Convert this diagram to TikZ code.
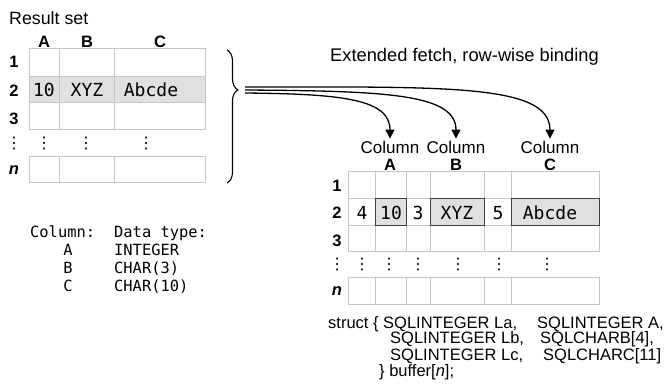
\documentclass[tikz,border=0pt]{standalone}
\usepackage{fontspec}
\setmainfont{Liberation Sans}
\setmonofont{DejaVu Sans Mono}
\newfontfamily\dotfont{DejaVu Sans}
\usetikzlibrary{arrows.meta,decorations.pathreplacing}

\definecolor{gridgray}{HTML}{C6C6C6}
\definecolor{rowgray}{HTML}{E0E0E0}
\definecolor{boxedge}{HTML}{3D3D3D}

\begin{document}
\begin{tikzpicture}[x=1pt,y=-1pt,
    gridline/.style={draw=gridgray,line width=1pt},
    field/.style={draw=boxedge,fill=rowgray,line width=1pt},
    flow/.style={draw,line width=1.3pt,-{Triangle[width=9pt,length=9pt]}}]
      \useasboundingbox (0,0) rectangle (665,385);
      % result set
      \fill[rowgray] (29,77) rectangle (205,103);
      \draw[gridline] (29,49) rectangle (205,130) (29,77) -- (205,77) (29,103) -- (205,103)
        (59,49) -- (59,130) (114,49) -- (114,130);
      \draw[gridline] (29,157) rectangle (205,183) (59,157) -- (59,183) (114,157) -- (114,183);
      % buffer
      \draw[gridline] (348,172) rectangle (599,252) (348,199) -- (599,199) (348,226) -- (599,226)
        (375,172) -- (375,252) (406,172) -- (406,252) (430,172) -- (430,252)
        (484,172) -- (484,252) (511,172) -- (511,252);
      \draw[gridline] (348,278) rectangle (599,305)
        (375,278) -- (375,305) (406,278) -- (406,305) (430,278) -- (430,305)
        (484,278) -- (484,305) (511,278) -- (511,305);
      \draw[field] (375,199) rectangle (406,226);
      \draw[field] (430,199) rectangle (484,226);
      \draw[field] (511,199) rectangle (599,226);
      \draw[line width=1.1pt,decorate,decoration={brace,amplitude=11pt,aspect=0.3}] (227,50) -- (227,183);
      \begin{scope}[every node/.style={anchor=base west,inner sep=0pt,font=\fontsize{17.8}{21}\selectfont}]
        \node (result) at (9,25) {Result set};
        \node[font=\fontsize{18.3}{22}\selectfont] (fetch) at (330,62) {Extended fetch, row-wise binding};
      \end{scope}
      \begin{scope}[every node/.style={font=\fontsize{16.5}{19}\bfseries}]
        \node (hA) at (44,42) {A};
        \node (hB) at (87,42) {B};
        \node (hC) at (160,42) {C};
        \node (r1) at (14,62) {1};
        \node (r2) at (14,91) {2};
        \node (r3) at (14,119) {3};
        \node[font=\fontsize{16.5}{19}\bfseries\itshape] (rn) at (14,170) {n};
        \node (lA) at (390,165) {A};
        \node (lB) at (456,165) {B};
        \node (lC) at (550,165) {C};
        \node (q1) at (337,186) {1};
        \node (q2) at (337,213) {2};
        \node (q3) at (337,241) {3};
        \node[font=\fontsize{16.5}{19}\bfseries\itshape] (qn) at (337,291) {n};
      \end{scope}
      \begin{scope}[every node/.style={font=\fontsize{16}{18}\dotfont}]
        \node (rdots) at (14,144) {⋮};
        \node (dA) at (44,144) {⋮};
        \node (dB) at (86,144) {⋮};
        \node (dC) at (146,144) {⋮};
        \node (qdots) at (337,265) {⋮};
        \node (dLa) at (362,265) {⋮};
        \node (dA2) at (389,265) {⋮};
        \node (dLb) at (418,265) {⋮};
        \node (dB2) at (458,265) {⋮};
        \node (dLc) at (499,265) {⋮};
        \node (dC2) at (547,265) {⋮};
      \end{scope}
      \begin{scope}[every node/.style={font=\fontsize{18}{21}\ttfamily}]
        \node (vA) at (44,90) {10};
        \node (vB) at (87,90) {XYZ};
        \node (vC) at (151,90) {Abcde};
        \node (La) at (362,213) {4};
        \node (bA) at (391,213) {10};
        \node (Lb) at (418,213) {3};
        \node (bB) at (457,213) {XYZ};
        \node (Lc) at (498,213) {5};
        \node (bC) at (550,213) {Abcde};
      \end{scope}
      \begin{scope}[every node/.style={font=\fontsize{17}{20}\selectfont,inner sep=2pt}]
        \node (colA) at (390,147) {Column};
        \node (colB) at (456,147) {Column};
        \node (colC) at (550,147) {Column};
      \end{scope}
      % column types
      \begin{scope}[every node/.style={anchor=base west,inner sep=0pt,font=\fontsize{15.4}{18}\ttfamily}]
        \node (legcol) at (30,238) {Column:};
        \node (legtype) at (114,238) {Data type:};
        \node[anchor=base] (tA) at (68,256) {A};
        \node[anchor=base] (tB) at (68,274) {B};
        \node[anchor=base] (tC) at (68,292) {C};
        \node (typeA) at (114,256) {INTEGER};
        \node (typeB) at (114,274) {CHAR(3)};
        \node (typeC) at (114,292) {CHAR(10)};
      \end{scope}
      % struct
      \begin{scope}[every node/.style={anchor=base west,inner sep=0pt,font=\fontsize{16.5}{19}\selectfont}]
        \node (s1) at (328,328) {struct \{ SQLINTEGER La,};
        \node (s2) at (390,344) {SQLINTEGER Lb,};
        \node (s3) at (390,360) {SQLINTEGER Lc,};
        \node (s4) at (379,376) {\} buffer[\textit{n}];};
        \node (t1) at (537,328) {SQLINTEGER A,};
        \node (t2) at (540,344) {SQLCHARB[4],};
        \node (t3) at (543,360) {SQLCHARC[11]};
      \end{scope}
      \coordinate (fetchA) at (245,93);
      \coordinate (fetchB) at (245,90);
      \coordinate (fetchC) at (245,87);
      \draw[flow] (fetchA) .. controls +(95,1) and +(0,-40) .. (colA.north);
      \draw[flow] (fetchB) .. controls +(140,1) and +(0,-45) .. (colB.north);
      \draw[flow] (fetchC) .. controls +(200,0) and +(0,-55) .. (colC.north);
    \end{tikzpicture}
\end{document}
